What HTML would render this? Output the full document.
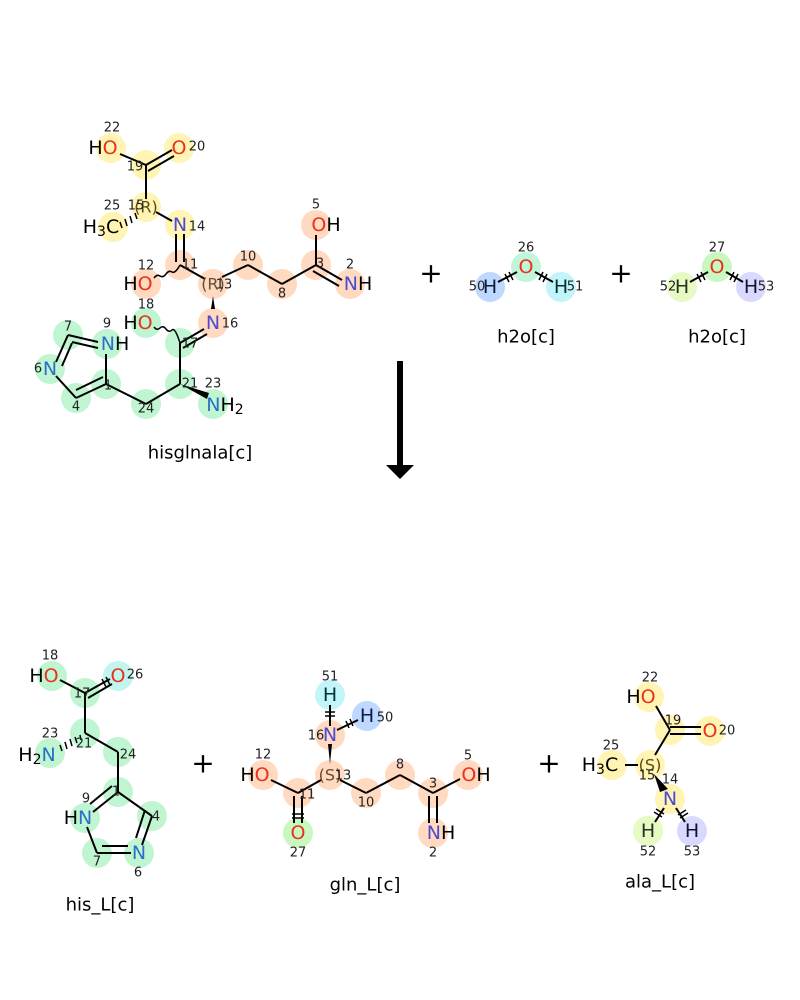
<!DOCTYPE html>
<html><head><meta charset="utf-8">
<style>
html,body{margin:0;padding:0;background:#fff;}
svg{display:block}
text{font-family:"DejaVu Sans","Liberation Sans",sans-serif;}
.a{font-size:19px;text-anchor:middle;dominant-baseline:central}
.n{font-size:13px;fill:#222;text-anchor:middle;dominant-baseline:central}
.l{font-size:18px;text-anchor:middle;dominant-baseline:central}
.b{stroke:#000;stroke-width:2;fill:none}
.O{fill:#e8331a}.N{fill:#4b4bd0}.Nb{fill:#2a70c8}
</style></head><body>
<svg width="800" height="1000" viewBox="0 0 800 1000">
<g opacity="0.95">
<g fill="#fff4b0">
<circle cx="111" cy="148" r="15"/><circle cx="179" cy="148" r="15"/><circle cx="146" cy="165" r="15"/><circle cx="146" cy="207" r="15"/><circle cx="113" cy="227" r="15"/><circle cx="180" cy="225" r="15"/>
</g>
<g fill="#ffd8bd">
<circle cx="180" cy="265" r="15"/><circle cx="146" cy="284" r="15"/><circle cx="213" cy="284" r="15"/><circle cx="248" cy="265" r="15"/><circle cx="282" cy="284" r="15"/><circle cx="316" cy="265" r="15"/><circle cx="316" cy="225" r="15"/><circle cx="350" cy="284" r="15"/><circle cx="213" cy="323" r="15"/>
</g>
<g fill="#bdf5cf">
<circle cx="146" cy="323" r="15"/><circle cx="180" cy="343" r="15"/><circle cx="107" cy="344" r="15"/><circle cx="68" cy="335" r="15"/><circle cx="50" cy="369" r="15"/><circle cx="76" cy="398" r="15"/><circle cx="106" cy="384" r="15"/><circle cx="146" cy="404" r="15"/><circle cx="180" cy="384" r="15"/><circle cx="213" cy="404" r="15"/>
</g>
<circle cx="526" cy="267" r="15" fill="#bdf5d8"/><circle cx="490" cy="287" r="15" fill="#bcd6ff"/><circle cx="561" cy="287" r="15" fill="#bff5fa"/>
<circle cx="717" cy="267" r="15" fill="#c6f7bd"/><circle cx="682" cy="287" r="15" fill="#e6fac0"/><circle cx="751" cy="287" r="15" fill="#d8d8ff"/>
<g fill="#bdf5cf">
<circle cx="52" cy="676" r="15"/><circle cx="85" cy="693" r="15"/><circle cx="85" cy="733" r="15"/><circle cx="50" cy="753" r="15"/><circle cx="118" cy="752" r="15"/><circle cx="118" cy="792" r="15"/><circle cx="85" cy="818" r="15"/><circle cx="152" cy="816" r="15"/><circle cx="139" cy="853" r="15"/><circle cx="97" cy="853" r="15"/>
</g>
<circle cx="118" cy="676" r="15" fill="#bff5f0"/>
<circle cx="330" cy="695" r="15" fill="#bff5fa"/><circle cx="367" cy="716" r="15" fill="#bcd6ff"/>
<g fill="#ffd8bd">
<circle cx="330" cy="735" r="15"/><circle cx="330" cy="775" r="15"/><circle cx="298" cy="793" r="15"/><circle cx="263" cy="775" r="15"/><circle cx="366" cy="793" r="15"/><circle cx="400" cy="775" r="15"/><circle cx="433" cy="793" r="15"/><circle cx="468" cy="775" r="15"/><circle cx="433" cy="833" r="15"/>
</g>
<circle cx="298" cy="833" r="15" fill="#c6f7bd"/>
<g fill="#fff4b0">
<circle cx="649" cy="697" r="15"/><circle cx="670" cy="730" r="15"/><circle cx="710" cy="731" r="15"/><circle cx="650" cy="765" r="15"/><circle cx="612" cy="765" r="15"/><circle cx="670" cy="799" r="15"/>
</g>
<circle cx="648" cy="831" r="15" fill="#e6fac0"/><circle cx="692" cy="831" r="15" fill="#d8d8ff"/>
</g>

<g class="b">
<line x1="120" y1="154" x2="146" y2="165"/>
<line x1="146" y1="165" x2="172" y2="150"/><line x1="148" y1="171" x2="174" y2="156"/>
<line x1="146" y1="165" x2="146" y2="199"/>
<line x1="156" y1="212" x2="172" y2="221"/>
<line x1="176" y1="234" x2="176" y2="262"/><line x1="184" y1="234" x2="184" y2="262"/>
<path d="M154 278 q3 -4 6 -2 q3 2 6 -2 q3 -4 6 -2 q3 2 8 -7" stroke-width="1.5"/>
<line x1="180" y1="265" x2="205" y2="279"/>
<line x1="222" y1="277" x2="248" y2="265"/><line x1="248" y1="265" x2="282" y2="284"/><line x1="282" y1="284" x2="316" y2="265"/>
<line x1="316" y1="235" x2="316" y2="265"/>
<line x1="316" y1="265" x2="342" y2="280"/><line x1="313" y1="271" x2="339" y2="286"/>
<path d="M154 327 q3 4 6 1 q3 -3 6 1 q3 4 6 1 q3 -3 8 13" stroke-width="1.5"/>
<line x1="180" y1="343" x2="204" y2="329"/><line x1="183" y1="348" x2="207" y2="334"/>
<line x1="180" y1="343" x2="180" y2="384"/>
<line x1="180" y1="384" x2="146" y2="404"/><line x1="146" y1="404" x2="106" y2="384"/>
<line x1="106" y1="384" x2="76" y2="398"/><line x1="103" y1="377" x2="76" y2="390"/>
<line x1="76" y1="398" x2="56" y2="376"/>
<line x1="56" y1="362" x2="68" y2="335"/><line x1="62" y1="366" x2="72" y2="343"/>
<line x1="68" y1="335" x2="98" y2="342"/><line x1="72" y1="342" x2="98" y2="348"/>
<line x1="106" y1="384" x2="106" y2="354"/>
</g>
<polygon points="211,309 215,309 213,296" fill="#000"/>
<polygon points="207,399 209,393 180,384" fill="#000"/>
<g stroke="#000" stroke-width="1.5">
<line x1="120" y1="222" x2="122" y2="228"/><line x1="125" y1="219" x2="127" y2="226"/><line x1="130" y1="216" x2="132" y2="223"/><line x1="135" y1="213" x2="137" y2="219"/>
</g>
<g class="b">
<line x1="498" y1="282" x2="517" y2="272"/><line x1="535" y1="272" x2="553" y2="282"/>
<line x1="690" y1="282" x2="708" y2="272"/><line x1="726" y1="272" x2="743" y2="282"/>
</g>
<g stroke="#000" stroke-width="1.5">
<line x1="505" y1="274" x2="509" y2="282"/><line x1="509" y1="272" x2="513" y2="280"/>
<line x1="543" y1="272" x2="539" y2="280"/><line x1="547" y1="274" x2="543" y2="282"/>
<line x1="697" y1="274" x2="701" y2="282"/><line x1="701" y1="272" x2="705" y2="280"/>
<line x1="734" y1="272" x2="730" y2="280"/><line x1="738" y1="274" x2="734" y2="282"/>
</g>
<rect x="397" y="361" width="6" height="106" fill="#000"/>
<polygon points="386,465 414,465 400,479" fill="#000"/>
<text x="431" y="273" class="l" style="font-size:28px">+</text>
<text x="621" y="273" class="l" style="font-size:28px">+</text>
<text x="203" y="763" class="l" style="font-size:28px">+</text>
<text x="549" y="763" class="l" style="font-size:28px">+</text>
<g class="b">
<line x1="60" y1="680" x2="85" y2="693"/>
<line x1="85" y1="693" x2="110" y2="679"/><line x1="88" y1="698" x2="112" y2="684"/>
<line x1="85" y1="693" x2="85" y2="733"/>
<line x1="85" y1="733" x2="118" y2="752"/><line x1="118" y1="752" x2="118" y2="792"/>
<line x1="118" y1="792" x2="93" y2="812"/><line x1="112" y1="786" x2="90" y2="804"/>
<line x1="118" y1="792" x2="152" y2="816"/><line x1="152" y1="816" x2="142" y2="845"/><line x1="145" y1="810" x2="136" y2="838"/>
<line x1="131" y1="853" x2="97" y2="853"/><line x1="128" y1="846" x2="102" y2="846"/>
<line x1="97" y1="853" x2="87" y2="827"/>
</g>
<g stroke="#000" stroke-width="1.5">
<line x1="60" y1="745" x2="62" y2="751"/><line x1="65" y1="742" x2="67" y2="749"/><line x1="70" y1="739" x2="72" y2="746"/><line x1="75" y1="737" x2="77" y2="743"/><line x1="80" y1="735" x2="81" y2="740"/>
</g>
<g class="b">
<line x1="330" y1="705" x2="330" y2="726"/><line x1="337" y1="730" x2="358" y2="720"/>
<line x1="271" y1="780" x2="298" y2="793"/>
<line x1="298" y1="793" x2="321" y2="780"/>
<line x1="294" y1="796" x2="294" y2="823"/><line x1="302" y1="796" x2="302" y2="823"/>
<line x1="340" y1="780" x2="366" y2="793"/><line x1="366" y1="793" x2="400" y2="775"/><line x1="400" y1="775" x2="433" y2="793"/>
<line x1="433" y1="793" x2="460" y2="779"/>
<line x1="429" y1="796" x2="429" y2="823"/><line x1="437" y1="796" x2="437" y2="823"/>
</g>
<polygon points="328,744 332,744 330,764" fill="#000"/>
<g stroke="#000" stroke-width="1.5">
<line x1="325" y1="712" x2="335" y2="712"/><line x1="325" y1="716" x2="335" y2="716"/>
<line x1="346" y1="721" x2="349" y2="728"/><line x1="350" y1="719" x2="353" y2="726"/>
<line x1="292" y1="814" x2="304" y2="814"/><line x1="292" y1="818" x2="304" y2="818"/>
<line x1="102" y1="679" x2="106" y2="687"/><line x1="106" y1="677" x2="110" y2="685"/>
</g>
<g class="b">
<line x1="656" y1="706" x2="670" y2="730"/>
<line x1="670" y1="727" x2="701" y2="727"/><line x1="670" y1="734" x2="701" y2="734"/>
<line x1="670" y1="730" x2="655" y2="755"/>
<line x1="625" y1="765" x2="638" y2="765"/>
<line x1="664" y1="808" x2="655" y2="822"/><line x1="676" y1="808" x2="685" y2="822"/>
</g>
<polygon points="654,774 668,789 660,792" fill="#000"/>
<g stroke="#000" stroke-width="1.5">
<line x1="654" y1="812" x2="662" y2="817"/><line x1="656" y1="809" x2="664" y2="814"/>
<line x1="678" y1="815" x2="686" y2="810"/><line x1="680" y1="818" x2="688" y2="813"/>
</g>

<text class="a" x="103" y="148">H<tspan class="O">O</tspan></text>
<text class="a O" x="179" y="148">O</text>
<text class="a" x="146" y="207" style="fill:#5a4a10;font-size:16px">(R)</text>
<text class="a" x="101" y="227">H<tspan dy="5" style="font-size:14px">3</tspan><tspan dy="-5">C</tspan></text>
<text class="a N" x="180" y="225">N</text>
<text class="a" x="138" y="284">H<tspan class="O">O</tspan></text>
<text class="a" x="213" y="284" style="fill:#6a4a30;font-size:16px">(R)</text>
<text class="a" x="326" y="225"><tspan class="O">O</tspan>H</text>
<text class="a" x="358" y="284"><tspan class="N">N</tspan>H</text>
<text class="a N" x="213" y="323">N</text>
<text class="a" x="138" y="323">H<tspan class="O">O</tspan></text>
<text class="a" x="115" y="344"><tspan class="Nb">N</tspan>H</text>
<text class="a Nb" x="50" y="369">N</text>
<text class="a" x="225" y="405"><tspan class="Nb">N</tspan>H<tspan dy="5" style="font-size:14px">2</tspan></text>
<g>
<text class="n" x="112" y="128">22</text><text class="n" x="197" y="147">20</text><text class="n" x="135" y="167">19</text>
<text class="n" x="112" y="206">25</text><text class="n" x="136" y="206">15</text><text class="n" x="197" y="227">14</text>
<text class="n" x="316" y="205">5</text><text class="n" x="190" y="265">11</text><text class="n" x="248" y="257">10</text>
<text class="n" x="320" y="264">3</text><text class="n" x="350" y="265">2</text><text class="n" x="146" y="266">12</text>
<text class="n" x="224" y="285">13</text><text class="n" x="282" y="294">8</text><text class="n" x="146" y="305">18</text>
<text class="n" x="230" y="324">16</text><text class="n" x="190" y="344">17</text><text class="n" x="107" y="324">9</text>
<text class="n" x="68" y="327">7</text><text class="n" x="38" y="369">6</text><text class="n" x="76" y="407">4</text>
<text class="n" x="108" y="386">1</text><text class="n" x="146" y="409">24</text><text class="n" x="190" y="384">21</text>
<text class="n" x="213" y="384">23</text>
<text class="n" x="526" y="248">26</text><text class="n" x="477" y="287">50</text><text class="n" x="575" y="287">51</text>
<text class="n" x="717" y="248">27</text><text class="n" x="668" y="287">52</text><text class="n" x="766" y="287">53</text>
</g>
<text class="a" x="490" y="287" style="fill:#0a1a40">H</text><text class="a O" x="526" y="267">O</text><text class="a" x="561" y="287" style="fill:#033">H</text>
<text class="a" x="682" y="287" style="fill:#232">H</text><text class="a O" x="717" y="267">O</text><text class="a" x="751" y="287" style="fill:#113">H</text>
<text class="l" x="200" y="453">hisglnala[c]</text>
<text class="l" x="526" y="337">h2o[c]</text>
<text class="l" x="717" y="337">h2o[c]</text>

<text class="a" x="44" y="676">H<tspan class="O">O</tspan></text>
<text class="a O" x="118" y="676">O</text>
<text class="a" x="37" y="755">H<tspan dy="5" style="font-size:14px">2</tspan><tspan dy="-5" class="Nb">N</tspan></text>
<text class="a" x="78" y="818">H<tspan class="Nb">N</tspan></text>
<text class="a Nb" x="139" y="853">N</text>
<g>
<text class="n" x="50" y="656">18</text><text class="n" x="135" y="675">26</text><text class="n" x="82" y="694">17</text>
<text class="n" x="50" y="734">23</text><text class="n" x="84" y="744">21</text><text class="n" x="128" y="755">24</text>
<text class="n" x="116" y="792">1</text><text class="n" x="86" y="799">9</text><text class="n" x="156" y="817">4</text>
<text class="n" x="138" y="873">6</text><text class="n" x="97" y="862">7</text>
</g>
<text class="l" x="100" y="905">his_L[c]</text>
<text class="a" x="330" y="695" style="fill:#033">H</text>
<text class="a" x="367" y="716" style="fill:#0a1a40">H</text>
<text class="a N" x="330" y="735">N</text>
<text class="a" x="330" y="775" style="fill:#6a4a30;font-size:16px">(S)</text>
<text class="a" x="255" y="775">H<tspan class="O">O</tspan></text>
<text class="a O" x="298" y="833">O</text>
<text class="a" x="476" y="775"><tspan class="O">O</tspan>H</text>
<text class="a" x="441" y="833"><tspan class="N">N</tspan>H</text>
<g>
<text class="n" x="330" y="677">51</text><text class="n" x="385" y="718">50</text><text class="n" x="316" y="736">16</text>
<text class="n" x="343" y="776">13</text><text class="n" x="307" y="795">11</text><text class="n" x="263" y="755">12</text>
<text class="n" x="298" y="853">27</text><text class="n" x="366" y="803">10</text><text class="n" x="400" y="765">8</text>
<text class="n" x="433" y="784">3</text><text class="n" x="468" y="756">5</text><text class="n" x="433" y="853">2</text>
</g>
<text class="l" x="365" y="885">gln_L[c]</text>
<text class="a" x="641" y="697">H<tspan class="O">O</tspan></text>
<text class="a O" x="710" y="731">O</text>
<text class="a" x="650" y="765" style="fill:#5a4a10;font-size:16px">(S)</text>
<text class="a" x="600" y="765">H<tspan dy="5" style="font-size:14px">3</tspan><tspan dy="-5">C</tspan></text>
<text class="a N" x="670" y="799">N</text>
<text class="a" x="648" y="831" style="fill:#232">H</text>
<text class="a" x="692" y="831" style="fill:#113">H</text>
<g>
<text class="n" x="650" y="678">22</text><text class="n" x="673" y="721">19</text><text class="n" x="727" y="731">20</text>
<text class="n" x="611" y="746">25</text><text class="n" x="647" y="776">15</text><text class="n" x="670" y="780">14</text>
<text class="n" x="648" y="852">52</text><text class="n" x="692" y="852">53</text>
</g>
<text class="l" x="660" y="882">ala_L[c]</text>
</svg>
</body></html>
